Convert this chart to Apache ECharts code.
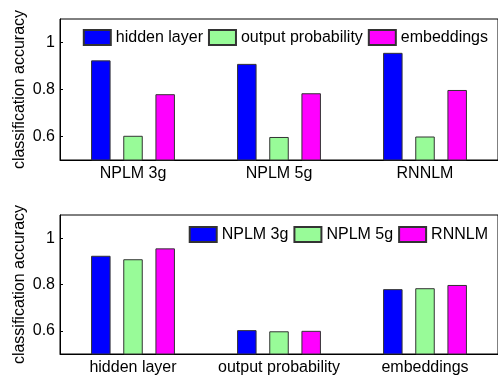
<!DOCTYPE html>
<html>
<head>
<meta charset="utf-8">
<script src="https://cdn.jsdelivr.net/npm/echarts@6/dist/echarts.min.js"></script>
<style>
  html, body { margin: 0; padding: 0; background: #fff; }
  #chart { width: 498px; height: 376px; }
</style>
</head>
<body>
<div id="chart"></div>
<script>
const models = ["NPLM 3g", "NPLM 5g", "RNNLM"];
const features = ["hidden layer", "output probability", "embeddings"];
// accuracy per feature, one value per model
const hiddenLayer = [0.924, 0.909, 0.956];
const outputProb = [0.603, 0.598, 0.600];
const embeddings = [0.780, 0.784, 0.798];
const yTicks = [0.6, 0.8, 1];
const colors = ["#0000ff", "#98fb98", "#ff00ff"];

const font = "'Liberation Sans', Arial, Helvetica, sans-serif";
const byFeature = [hiddenLayer, outputProb, embeddings];

function yAxis(gridIndex) {
    return {
        type: "value",
        gridIndex: gridIndex,
        min: 0.5,
        max: 1.1,
        interval: 0.1,
        name: "classification accuracy",
        nameLocation: "middle",
        nameGap: 32,
        nameMoveOverlap: false,
        nameTextStyle: { fontSize: 16, color: "#000", fontFamily: font },
        splitLine: { show: false },
        axisLine: { show: true, lineStyle: { color: "#000", width: 1 } },
        axisTick: { show: true, inside: true, length: 3, customValues: yTicks, lineStyle: { color: "#000" } },
        axisLabel: {
            customValues: yTicks,
            fontSize: 16,
            color: "#000",
            fontFamily: font,
            margin: 5,
            formatter: (v) => String(Math.round(v * 10) / 10),
        },
    };
}

function xAxis(gridIndex, data) {
    return {
        type: "category",
        gridIndex: gridIndex,
        data: data,
        axisTick: { show: false },
        axisLine: { show: true, lineStyle: { color: "#000", width: 1 } },
        axisLabel: { fontSize: 16, color: "#000", fontFamily: font, margin: 6, interval: 0 },
    };
}

function barSeries(name, data, color, idx) {
    return {
        name: name,
        type: "bar",
        xAxisIndex: idx,
        yAxisIndex: idx,
        data: data,
        barWidth: 19.5,
        barGap: "65%",
        itemStyle: { color: color, borderColor: "#333", borderWidth: 1 },
    };
}

const series = [];
features.forEach((f, i) => series.push(barSeries(f, byFeature[i], colors[i], 0)));
models.forEach((m, j) => series.push(barSeries(m, byFeature.map((arr) => arr[j]), colors[j], 1)));

function legend(names, top) {
    return {
        data: names,
        right: 10,
        top: top,
        padding: 0,
        itemWidth: 27,
        itemHeight: 15,
        itemGap: 5,
        icon: "rect",
        textStyle: { fontSize: 16, color: "#000", fontFamily: font },
    };
}

const chart = echarts.init(document.getElementById("chart"));
const option = {
    animation: false,
    backgroundColor: "#fff",
    grid: [
        { left: 60, top: 19, width: 439, height: 141, show: true, borderColor: "#000", borderWidth: 1 },
        { left: 60, top: 215, width: 439, height: 142, show: true, borderColor: "#000", borderWidth: 1 },
    ],
    legend: [legend(features, 29), legend(models, 226)],
    xAxis: [xAxis(0, models), xAxis(1, features)],
    yAxis: [yAxis(0), yAxis(1)],
    series: series,
};
chart.setOption(option);
</script>
</body>
</html>
